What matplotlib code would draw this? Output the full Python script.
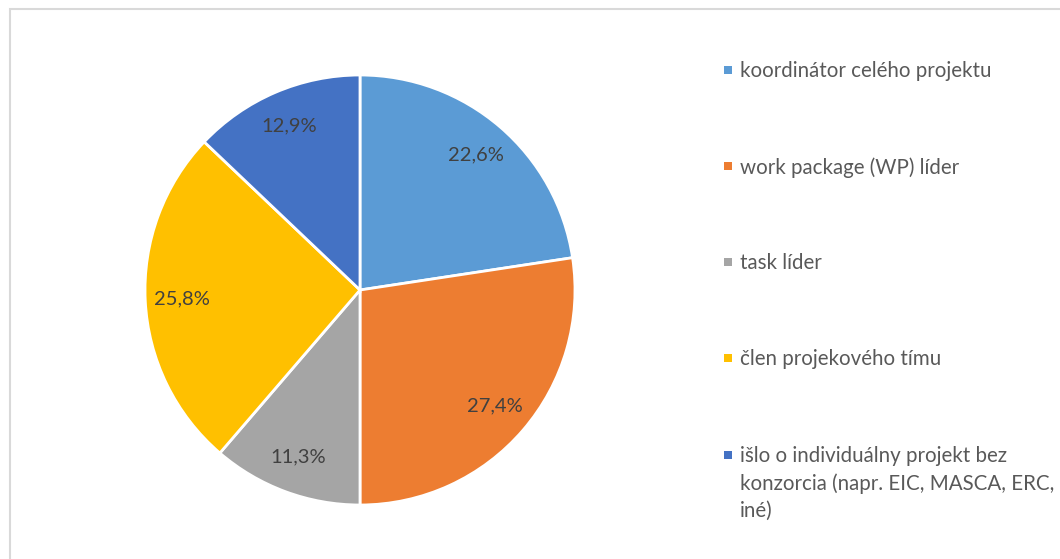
import matplotlib.pyplot as plt
from matplotlib.patches import Rectangle

plt.rcParams['font.family'] = ['Lato', 'DejaVu Sans']

labels = ['koordinátor celého projektu',
          'work package (WP) líder',
          'task líder',
          'člen projekového tímu',
          'išlo o individuálny projekt bez\nkonzorcia (napr. EIC, MASCA, ERC,\niné)']
values = [22.6, 27.4, 11.3, 25.8, 12.9]
colors = ['#5B9BD5', '#ED7D31', '#A5A5A5', '#FFC000', '#4472C4']

W, H = 1060, 559
fig = plt.figure(figsize=(W / 100, H / 100), dpi=100)

# chart border (gray frame, cut off at right and bottom)
fig.patches.append(Rectangle((9.5 / W, -0.1), 1.2, 1 - 9.5 / H + 0.1,
                             transform=fig.transFigure, fill=False,
                             edgecolor='#D9D9D9', linewidth=1.5))

cx, cy, r = 360, 290, 215
ax = fig.add_axes([(cx - r) / W, (H - cy - r) / H, 2 * r / W, 2 * r / H])
wedges, texts, autotexts = ax.pie(
    values, colors=colors, startangle=90, counterclock=False,
    autopct=lambda p: f'{p:.1f}%'.replace('.', ','), pctdistance=0.83,
    wedgeprops=dict(edgecolor='white', linewidth=2),
    textprops=dict(color='#404040', fontsize=14.5))
ax.set_xlim(-1, 1)
ax.set_ylim(-1, 1)
ax.set_aspect('equal')

# legend drawn by hand to follow the Excel layout
leg_y = [70, 166, 262, 358, 455]
for lab, col, y in zip(labels, colors, leg_y):
    fig.patches.append(Rectangle((724 / W, 1 - (y + 4) / H), 8 / W, 8 / H,
                                 transform=fig.transFigure, facecolor=col,
                                 edgecolor='none'))
    fig.text(740 / W, 1 - (y - 9) / H, lab, fontsize=14.8, color='#595959',
             va='top', ha='left', linespacing=1.45)

fig.savefig('out.png', dpi=100)
